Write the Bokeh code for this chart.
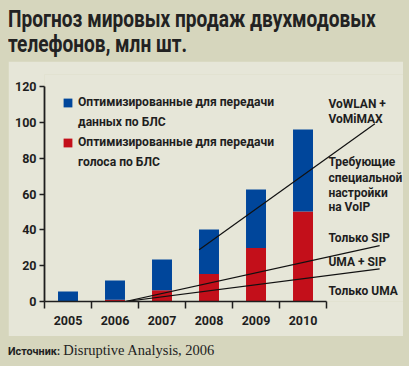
from bokeh.plotting import figure
from bokeh.models import ColumnDataSource, Range1d, FixedTicker, Legend, LegendItem, Div
from bokeh.layouts import column
from bokeh.core.properties import value
from bokeh.embed import file_html
from bokeh.resources import INLINE

# ---- data ----
years = ["2005", "2006", "2007", "2008", "2009", "2010"]
voice_opt = [0.0, 1.0, 6.3, 15.4, 29.8, 50.2]      # red
data_opt = [5.6, 10.7, 17.1, 24.8, 32.7, 45.8]     # blue (on top of red)

vowlan_x = [3.29, 7.03]
vowlan_y = [28.9, 99.2]
sip_x = [1.72, 7.13]
sip_y = [0.0, 31.2]
umasip_x = [1.72, 7.13]
umasip_y = [0.0, 18.2]

side_labels = ["VoWLAN +", "VoMiMAX", "Требующие", "специальной", "настройки",
               "на VoIP", "Только SIP", "UMA + SIP", "Только UMA"]
side_label_y = [110.5, 101.6, 77.6, 69.2, 60.8, 52.5, 35.7, 21.8, 5.6]

legend_lines = ["Оптимизированные для передачи", "данных по БЛС",
                "Оптимизированные для передачи", "голоса по БЛС"]
y_ticks = [0, 20, 40, 60, 80, 100, 120]

# ---- style ----
BG = "#d6d6bd"
PANEL = "#e6e6d8"
BLUE = "#00469b"
RED = "#c30f1a"
TXT = "#1e1e1e"
FONT = "Roboto"
SERIF = "'Liberation Serif', serif"

xs = [i + 0.5 for i in range(len(years))]
src = ColumnDataSource(dict(x=xs, voice=voice_opt, data=data_opt))

p = figure(width=395, height=275,
           x_range=Range1d(0, 7.638), y_range=Range1d(0, 126.70),
           output_backend="svg", toolbar_location=None,
           min_border_left=36, min_border_right=0, min_border_top=13, min_border_bottom=35,
           border_fill_color=PANEL, background_fill_color=PANEL, outline_line_color=None,
           margin=(0, 6, 0, 8))
p.grid.visible = False

rs = p.vbar_stack(["voice", "data"], x="x", width=0.425, color=[RED, BLUE],
                  line_color=None, source=src)

for lx, ly in ((vowlan_x, vowlan_y), (sip_x, sip_y), (umasip_x, umasip_y)):
    p.line(lx, ly, line_color="#111111", line_width=1.2)

p.text(x=[6.04] * len(side_labels), y=side_label_y, text=side_labels,
       text_font=value(FONT), text_font_size="12px", text_font_style="bold",
       text_baseline="middle", text_align="left", text_color=TXT)

legend = Legend(items=[LegendItem(label=legend_lines[0], renderers=[rs[1]]),
                       LegendItem(label=legend_lines[1], renderers=[]),
                       LegendItem(label=legend_lines[2], renderers=[rs[0]]),
                       LegendItem(label=legend_lines[3], renderers=[])],
                location="top_left", padding=21, margin=18, spacing=0,
                glyph_width=11, glyph_height=11, label_standoff=5, label_height=20,
                border_line_color=None, background_fill_alpha=0,
                label_text_font=FONT, label_text_font_size="12.1px",
                label_text_font_style="bold", label_text_color=TXT)
p.add_layout(legend)

# y axis
ya = p.yaxis[0]
ya.ticker = FixedTicker(ticks=y_ticks)
ya.bounds = (0, 120)
ya.axis_line_width = 1.8
ya.axis_line_color = TXT
ya.major_tick_out = 5
ya.major_tick_in = 0
ya.major_tick_line_width = 1.5
ya.major_tick_line_color = TXT
ya.minor_tick_out = 0
ya.minor_tick_in = 0
ya.major_label_standoff = 3
ya.major_label_text_font = FONT
ya.major_label_text_font_size = "12.5px"
ya.major_label_text_font_style = "bold"
ya.major_label_text_color = TXT

# x axis: ticks at category boundaries, labels at centres
xa = p.xaxis[0]
xa.ticker = FixedTicker(ticks=xs, minor_ticks=list(range(len(years) + 1)))
xa.bounds = (0, len(years))
xa.major_label_overrides = {x: y for x, y in zip(xs, years)}
xa.axis_line_width = 1.6
xa.axis_line_color = TXT
xa.major_tick_out = 0
xa.major_tick_in = 0
xa.minor_tick_out = 7
xa.minor_tick_in = 0
xa.minor_tick_line_width = 1.5
xa.minor_tick_line_color = TXT
xa.major_label_standoff = 7
xa.major_label_text_font = FONT
xa.major_label_text_font_size = "12.5px"
xa.major_label_text_font_style = "bold"
xa.major_label_text_color = TXT

title = Div(text=("<div style='position:relative;top:7px;left:8px;white-space:nowrap;"
                  "transform:scaleX(0.83);transform-origin:0 0'>"
                  "Прогноз мировых продаж двухмодовых<br>телефонов, млн шт.</div>"),
            width=409, height=61, margin=0,
            styles={"background-color": BG, "font-family": FONT, "font-size": "23px",
                    "font-weight": "bold", "line-height": "25px", "color": "#222222"})

source = Div(text=("<div style='position:relative;top:6px;left:8px;line-height:16px;white-space:nowrap'>"
                   f"<span style=\"font-family:{FONT};font-weight:bold;font-size:10.8px\">Источник:</span> "
                   f"<span style=\"font-family:{SERIF};font-size:14.5px\">Disruptive Analysis, 2006</span></div>"),
             width=409, height=30, margin=0,
             styles={"background-color": BG, "color": "#222222"})

layout = column(title, p, source, spacing=0, styles={"background-color": BG})

open("out.html", "w").write(file_html(layout, INLINE))
